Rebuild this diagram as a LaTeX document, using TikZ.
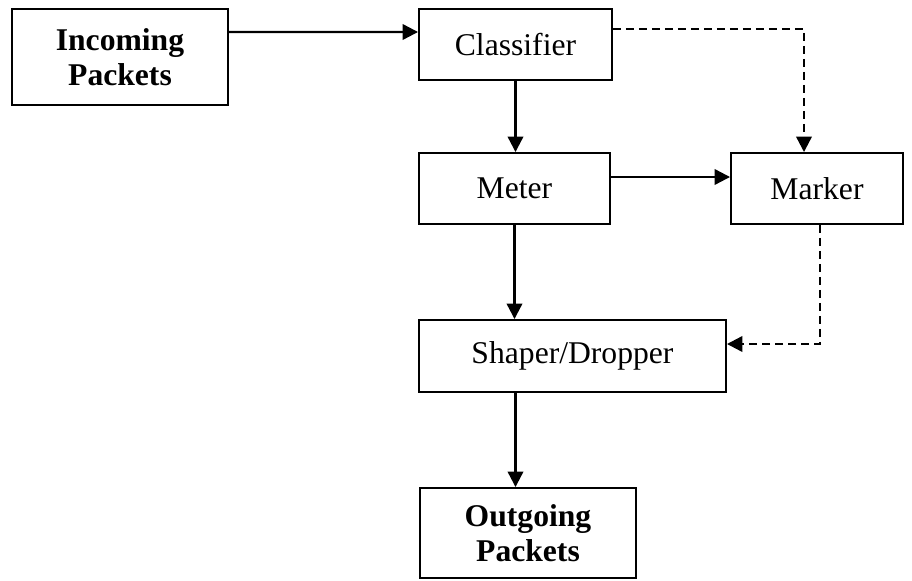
\documentclass[tikz,border=0pt]{standalone}
\usepackage{fontspec}
\setmainfont{Liberation Serif}
\usetikzlibrary{arrows.meta}

\tikzset{
  blk/.style={draw, line width=1.1pt, align=center, inner sep=0pt,
    font=\fontsize{18}{20}\selectfont},
  arr/.style={line width=1.3pt, -{Triangle[length=3.1mm,width=3.1mm]}},
  dsh/.style={arr, dash pattern=on 1.6mm off 1mm}
}

\begin{document}
\begin{tikzpicture}
\useasboundingbox (0,0) rectangle (18.24,-11.6);

\node[blk, minimum width=4.32cm, minimum height=1.92cm, font=\fontsize{18}{20}\selectfont\bfseries]
  (inc) at (2.4,-1.14) {Incoming\\Packets};
\node[blk, minimum width=3.86cm, minimum height=1.42cm] (cls) at (10.31,-0.89) {Classifier};
\node[blk, minimum width=3.82cm, minimum height=1.42cm] (met) at (10.29,-3.77) {Meter};
\node[blk, minimum width=3.44cm, minimum height=1.42cm] (mrk) at (16.34,-3.77) {Marker};
\node[blk, minimum width=6.14cm, minimum height=1.44cm] (shp) at (11.45,-7.12) {Shaper/Dropper};
\node[blk, minimum width=4.32cm, minimum height=1.8cm, font=\fontsize{18}{20}\selectfont\bfseries]
  (out) at (10.56,-10.66) {Outgoing\\Packets};

% solid connectors
\draw[arr] ([yshift=5mm]inc.east) -- ([yshift=2.5mm]cls.west);
\draw[arr] (cls.south) -- (cls.south |- met.north);
\draw[arr] ([yshift=2.3mm]met.east) -- ([yshift=2.3mm]mrk.west);
\draw[arr] (met.south) -- (met.south |- shp.north);
\draw[arr] (shp.south -| cls.south) -- (out.north -| cls.south);

% dashed connectors
\draw[dsh] ([yshift=3.1mm]cls.east) -| ([xshift=-2.6mm]mrk.north);
\draw[dsh] ([xshift=0.6mm]mrk.south) |- ([yshift=2.4mm]shp.east);
\end{tikzpicture}
\end{document}
